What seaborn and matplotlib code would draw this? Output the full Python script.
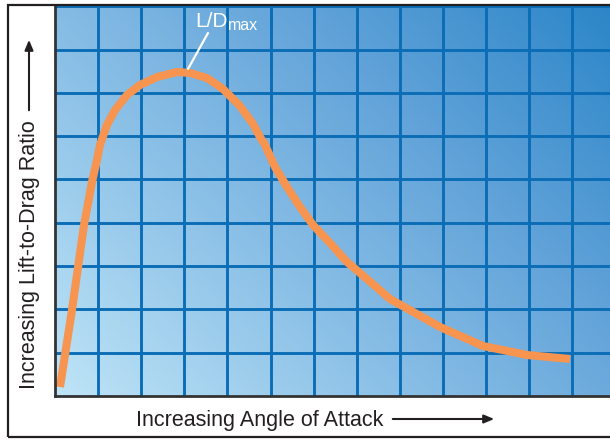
import numpy as np
import pandas as pd
import matplotlib
matplotlib.use("Agg")
import matplotlib.pyplot as plt
from matplotlib.colors import LinearSegmentedColormap
from matplotlib.patches import Rectangle, FancyArrowPatch
import seaborn as sns

# ---- data (grid units) ----
angle = [0.116, 0.394, 0.673, 0.858, 0.974, 1.044, 1.206, 1.392, 1.671, 1.972, 2.367,
         2.831, 3.132, 3.527, 3.898, 4.292, 4.594, 4.756, 4.872, 5.104, 5.383, 5.684,
         5.986, 6.381, 6.775, 6.914, 7.773, 8.933, 9.930, 10.951, 11.949]
ld_ratio = [0.208, 1.986, 3.949, 4.942, 5.450, 5.797, 6.259, 6.605, 6.952, 7.182, 7.367,
            7.483, 7.460, 7.344, 7.090, 6.697, 6.282, 5.982, 5.797, 5.289, 4.827, 4.365,
            3.949, 3.533, 3.095, 2.979, 2.240, 1.594, 1.155, 0.947, 0.855]
peak_label = "L/D"
peak_sub = "max"
x_label = "Increasing Angle of Attack"
y_label = "Increasing Lift-to-Drag Ratio"

df = pd.DataFrame({"angle": angle, "ld": ld_ratio})

sns.set_theme(style="white")
plt.rcParams["font.family"] = ["Liberation Sans", "DejaVu Sans"]

W, H = 610, 440
fig = plt.figure(figsize=(W / 100, H / 100), dpi=100)
fig.patch.set_facecolor("white")

# outer frame
fig.patches.append(Rectangle((8 / W, 1 - 437 / H), 1.2, (437 - 5) / H,
                             transform=fig.transFigure, fill=False,
                             edgecolor="#231f20", lw=1.6, zorder=0))

left, bottom, top = 55, 396, 6
ax = fig.add_axes([left / W, 1 - bottom / H, 1 - left / W, (bottom - top) / H])
xmax = (W - left) / 43.1
ymax = (bottom - top) / 43.3
ax.set_xlim(0, xmax)
ax.set_ylim(0, ymax)

# gradient background
ny, nx = 200, 300
gx = np.linspace(0, 1, nx)
gy = np.linspace(0, 1, ny)
GX, GY = np.meshgrid(gx, gy)
T = (GX * (W - left) + GY * (bottom - top)) / ((W - left) + (bottom - top))
cmap = LinearSegmentedColormap.from_list("bg", ["#bee4f7", "#8fc3e8", "#62a3d9", "#2c86c8"])
ax.imshow(T, cmap=cmap, origin="lower", extent=[0, xmax, 0, ymax],
          aspect="auto", zorder=0, interpolation="bilinear")

# grid
ax.set_xticks(np.arange(1, int(xmax) + 1))
ax.set_yticks(np.arange(1, int(ymax) + 1))
ax.grid(True, color="#0b6db6", lw=2.1, zorder=1)
ax.set_axisbelow(False)
ax.tick_params(length=0, labelbottom=False, labelleft=False)
for s in ["top", "right"]:
    ax.spines[s].set_visible(False)
for s in ["left", "bottom"]:
    ax.spines[s].set_color("#333333")
    ax.spines[s].set_linewidth(2.0)
    ax.spines[s].set_zorder(5)

# curve
sns.lineplot(data=df, x="angle", y="ld", sort=False, ax=ax, color="#f7944f",
             lw=5.8, zorder=3, solid_capstyle="butt", solid_joinstyle="round")
ax.set_xlabel("")
ax.set_ylabel("")

# peak annotation
ax.plot([(188 - left) / 43.1, (208 - left) / 43.1],
        [(bottom - 69) / 43.3, (bottom - 33) / 43.3], color="white", lw=1.6, zorder=4)
fig.text(195 / W, 1 - 27 / H, peak_label, color="white", fontsize=15, ha="left", va="baseline")
fig.text(228 / W, 1 - 30 / H, peak_sub, color="white", fontsize=11.5, ha="left", va="baseline")

# axis labels with arrows
fig.text(260 / W, 1 - 420 / H, x_label, fontsize=15.5, ha="center", va="center", color="#231f20")
fig.patches.append(FancyArrowPatch((390 / W, 1 - 419 / H), (497 / W, 1 - 419 / H),
                                   transform=fig.transFigure, arrowstyle="-|>,head_length=6,head_width=2.5",
                                   color="#231f20", lw=1.5, mutation_scale=1))
fig.text(30 / W, 1 - 255 / H, y_label, fontsize=15.5, ha="center", va="center",
         rotation=90, color="#231f20")
fig.patches.append(FancyArrowPatch((29 / W, 1 - 113 / H), (29 / W, 1 - 37 / H),
                                   transform=fig.transFigure, arrowstyle="-|>,head_length=6,head_width=2.5",
                                   color="#231f20", lw=1.5, mutation_scale=1))

fig.savefig("out.png", dpi=100)
